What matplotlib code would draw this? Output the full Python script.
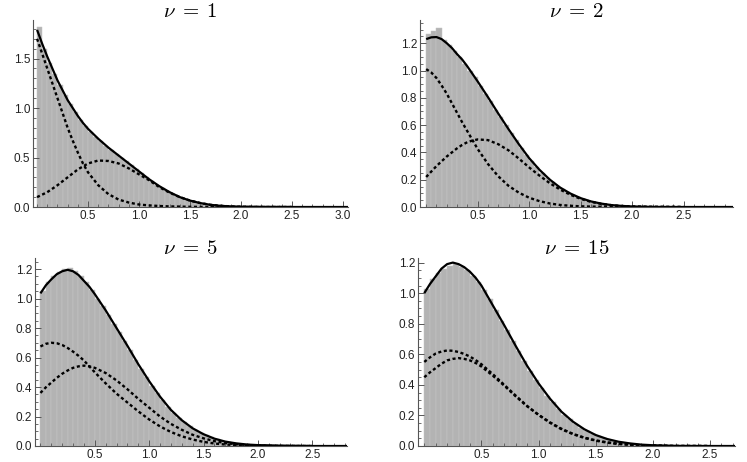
import numpy as np
import matplotlib
matplotlib.use('Agg')
import matplotlib.pyplot as plt
from matplotlib.ticker import MultipleLocator, FormatStrFormatter

plt.rcParams['mathtext.fontset'] = 'cm'
plt.rcParams['font.family'] = ['Liberation Sans', 'DejaVu Sans']

# ---- data ----
titles = [r'$\nu\;=\;1$', r'$\nu\;=\;2$', r'$\nu\;=\;5$', r'$\nu\;=\;15$']
bin_w = 0.05

# histogram heights, bins of width 0.05 starting at 0
hist_1 = [1.82, 1.60, 1.46, 1.34, 1.23, 1.13, 1.04, 0.96, 0.88, 0.82,
          0.76, 0.71, 0.67, 0.62, 0.58, 0.54, 0.50, 0.46, 0.42, 0.38,
          0.34, 0.30, 0.26, 0.225, 0.195, 0.165, 0.135, 0.11, 0.09, 0.075,
          0.058, 0.046, 0.035, 0.026, 0.019, 0.014, 0.01, 0.007, 0.005, 0.003,
          0.002, 0.001]
hist_2 = [1.27, 1.29, 1.31, 1.22, 1.19, 1.14, 1.10, 1.05, 1.00, 0.95,
          0.89, 0.83, 0.78, 0.71, 0.66, 0.60, 0.54, 0.49, 0.43, 0.38,
          0.335, 0.29, 0.25, 0.215, 0.185, 0.155, 0.13, 0.11, 0.09, 0.073,
          0.058, 0.046, 0.036, 0.028, 0.021, 0.016, 0.012, 0.009, 0.006, 0.005,
          0.004, 0.003, 0.002]
hist_5 = [1.05, 1.11, 1.15, 1.18, 1.20, 1.21, 1.19, 1.15, 1.11, 1.06,
          1.00, 0.95, 0.89, 0.83, 0.77, 0.71, 0.65, 0.585, 0.525, 0.47,
          0.41, 0.36, 0.31, 0.265, 0.225, 0.19, 0.16, 0.135, 0.11, 0.09,
          0.072, 0.058, 0.045, 0.035, 0.027, 0.021, 0.016, 0.012, 0.009, 0.007,
          0.005, 0.004, 0.003, 0.002]
hist_15 = [1.03, 1.09, 1.13, 1.16, 1.18, 1.19, 1.17, 1.15, 1.11, 1.07,
           1.02, 0.96, 0.89, 0.82, 0.76, 0.69, 0.62, 0.555, 0.49, 0.435,
           0.38, 0.33, 0.285, 0.245, 0.205, 0.175, 0.145, 0.12, 0.10, 0.08,
           0.065, 0.05, 0.04, 0.03, 0.023, 0.017, 0.012, 0.009, 0.006, 0.004,
           0.003, 0.002]

# curve sample points
x_pts = [0.0, 0.05, 0.1, 0.15, 0.2, 0.25, 0.3, 0.35, 0.4, 0.45, 0.5,
         0.6, 0.7, 0.8, 0.9, 1.0, 1.1, 1.2, 1.3, 1.4, 1.5, 1.6, 1.7,
         1.8, 1.9, 2.0, 2.2, 2.5]

total_1 = [1.79, 1.65, 1.52, 1.40, 1.28, 1.18, 1.08, 1.00, 0.92, 0.85, 0.79,
           0.69, 0.60, 0.52, 0.44, 0.36, 0.28, 0.21, 0.15, 0.10, 0.065, 0.04,
           0.022, 0.012, 0.006, 0.003, 0.001, 0.0]
comp_a_1 = [1.70, 1.55, 1.40, 1.25, 1.10, 0.95, 0.80, 0.67, 0.55, 0.44, 0.35,
            0.22, 0.13, 0.075, 0.045, 0.025, 0.016, 0.01, 0.006, 0.004, 0.002,
            0.001, 0.0, 0.0, 0.0, 0.0, 0.0, 0.0]
comp_b_1 = [0.10, 0.125, 0.15, 0.185, 0.22, 0.26, 0.30, 0.34, 0.38, 0.41, 0.44,
            0.47, 0.465, 0.44, 0.39, 0.33, 0.27, 0.20, 0.145, 0.10, 0.065, 0.04,
            0.022, 0.012, 0.006, 0.003, 0.0, 0.0]

total_2 = [1.23, 1.243, 1.245, 1.23, 1.20, 1.165, 1.12, 1.08, 1.03, 0.975, 0.92,
           0.805, 0.685, 0.57, 0.46, 0.358, 0.273, 0.201, 0.143, 0.099, 0.065,
           0.041, 0.025, 0.014, 0.008, 0.004, 0.001, 0.0]
comp_a_2 = [1.01, 0.985, 0.945, 0.89, 0.83, 0.76, 0.69, 0.62, 0.555, 0.49, 0.425,
            0.315, 0.225, 0.155, 0.105, 0.068, 0.043, 0.026, 0.015, 0.009, 0.005,
            0.003, 0.002, 0.001, 0.0, 0.0, 0.0, 0.0]
comp_b_2 = [0.22, 0.26, 0.30, 0.335, 0.37, 0.40, 0.43, 0.455, 0.475, 0.487, 0.495,
            0.49, 0.46, 0.415, 0.355, 0.29, 0.23, 0.175, 0.128, 0.09, 0.06,
            0.038, 0.023, 0.013, 0.007, 0.004, 0.001, 0.0]

total_5 = [1.035, 1.09, 1.13, 1.165, 1.185, 1.195, 1.185, 1.16, 1.12, 1.08, 1.03,
           0.92, 0.80, 0.68, 0.555, 0.44, 0.335, 0.245, 0.175, 0.12, 0.08,
           0.05, 0.03, 0.018, 0.01, 0.006, 0.002, 0.0]
comp_a_5 = [0.675, 0.693, 0.70, 0.697, 0.685, 0.665, 0.64, 0.612, 0.58, 0.54, 0.50,
            0.425, 0.355, 0.295, 0.235, 0.18, 0.133, 0.095, 0.066, 0.044, 0.028,
            0.017, 0.01, 0.006, 0.003, 0.002, 0.0, 0.0]
comp_b_5 = [0.36, 0.398, 0.43, 0.462, 0.49, 0.512, 0.53, 0.54, 0.545, 0.54, 0.53,
            0.495, 0.445, 0.385, 0.32, 0.26, 0.20, 0.15, 0.11, 0.076, 0.052,
            0.033, 0.02, 0.012, 0.007, 0.004, 0.001, 0.0]

total_15 = [1.00, 1.06, 1.11, 1.16, 1.19, 1.20, 1.19, 1.17, 1.14, 1.10, 1.05,
            0.92, 0.79, 0.655, 0.525, 0.41, 0.31, 0.225, 0.16, 0.11, 0.072,
            0.046, 0.028, 0.017, 0.009, 0.005, 0.001, 0.0]
comp_a_15 = [0.55, 0.58, 0.605, 0.618, 0.625, 0.623, 0.615, 0.602, 0.585, 0.562, 0.535,
             0.47, 0.40, 0.33, 0.262, 0.203, 0.152, 0.11, 0.078, 0.053, 0.035,
             0.022, 0.013, 0.008, 0.004, 0.002, 0.0, 0.0]
comp_b_15 = [0.45, 0.482, 0.51, 0.538, 0.56, 0.57, 0.575, 0.57, 0.56, 0.543, 0.52,
             0.46, 0.395, 0.325, 0.26, 0.205, 0.155, 0.113, 0.08, 0.055, 0.037,
             0.024, 0.015, 0.009, 0.005, 0.003, 0.0, 0.0]

hists = [hist_1, hist_2, hist_5, hist_15]
totals = [total_1, total_2, total_5, total_15]
comps_a = [comp_a_1, comp_a_2, comp_a_5, comp_a_15]
comps_b = [comp_b_1, comp_b_2, comp_b_5, comp_b_15]

# layout (pixels in a 747x462 figure): left, top, right, bottom
boxes = [(33, 20, 348, 207), (420, 20, 733, 207),
         (35, 258, 347, 446), (418, 258, 735, 446)]
title_base = [17, 17, 254, 254]
xlims = [(-0.04, 3.05), (-0.06, 2.98), (-0.05, 2.82), (-0.055, 2.72)]
ylims = [1.89, 1.37, 1.275, 1.23]
ymajor = [0.5, 0.2, 0.2, 0.2]
yminor = [0.1, 0.05, 0.05, 0.05]

W, H = 747, 462
fig = plt.figure(figsize=(W / 100, H / 100), dpi=100)

for i in range(4):
    l, t, r, b = boxes[i]
    ax = fig.add_axes([l / W, (H - b) / H, (r - l) / W, (b - t) / H])

    edges = np.arange(len(hists[i])) * bin_w
    ax.bar(edges, hists[i], width=bin_w, align='edge', color='#b3b3b3',
           edgecolor='#c4c4c4', linewidth=0.35, zorder=1)

    xs = x_pts + [xlims[i][1]]
    ax.plot(xs, totals[i] + [0.0], color='black', lw=1.6, zorder=3,
            solid_capstyle='butt', solid_joinstyle='round')
    ax.plot(x_pts, comps_a[i], color='black', lw=1.7, dashes=(1.3, 1.1), zorder=2)
    ax.plot(x_pts, comps_b[i], color='black', lw=1.7, dashes=(1.3, 1.1), zorder=2)

    ax.set_xlim(*xlims[i])
    ax.set_ylim(0, ylims[i])
    ax.spines['top'].set_visible(False)
    ax.spines['right'].set_visible(False)
    for s in ['left', 'bottom']:
        ax.spines[s].set_color('#555555')
        ax.spines[s].set_linewidth(0.8)

    ax.xaxis.set_minor_locator(MultipleLocator(0.1))
    ax.yaxis.set_major_locator(MultipleLocator(ymajor[i]))
    ax.yaxis.set_minor_locator(MultipleLocator(yminor[i]))
    ax.xaxis.set_major_formatter(FormatStrFormatter('%.1f'))
    ax.yaxis.set_major_formatter(FormatStrFormatter('%.1f'))
    ax.set_xticks([v for v in np.arange(0.5, xlims[i][1], 0.5)])
    ax.tick_params(which='major', direction='in', length=4, width=0.7,
                   color='#555555', labelsize=8.5, labelcolor='#222222', pad=2)
    ax.tick_params(which='minor', direction='in', length=2.2, width=0.6,
                   color='#555555')

    # title placed by its baseline, centred over the axis
    fig.text((l + r) / 2 / W, 1 - title_base[i] / H, titles[i], fontsize=15,
             ha='center', va='baseline')

fig.savefig('out.png', dpi=100)
